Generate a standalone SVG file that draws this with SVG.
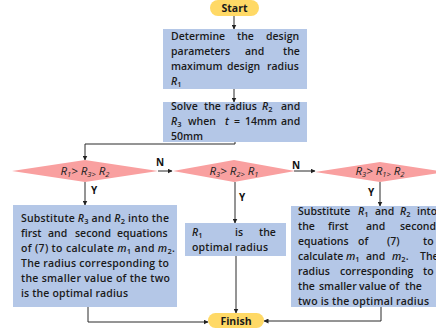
<svg xmlns="http://www.w3.org/2000/svg" width="436" height="333" viewBox="0 0 436 333">
<defs>
<marker id="ah" viewBox="0 0 10 10" refX="9" refY="5" markerWidth="5" markerHeight="5" orient="auto" markerUnits="userSpaceOnUse"><path d="M0,0 L10,5 L0,10 z" fill="#222"/></marker>
</defs>
<style>
.pill{fill:#ffd966}
.box{fill:#b4c7e7}
.dia{fill:#f9a0a0}
.t{font-family:"Open Sans","Liberation Sans",sans-serif;font-size:10.5px;font-weight:600;fill:#1a1a1a}
.pt{font-family:"Open Sans","Liberation Sans",sans-serif;font-size:10.5px;font-weight:700;fill:#1a1a1a;text-anchor:middle}
.dt{font-family:"Open Sans","Liberation Sans",sans-serif;font-size:11.5px;font-style:italic;fill:#222;text-anchor:middle}
.lb{font-family:"Open Sans","Liberation Sans",sans-serif;font-size:10px;font-weight:700;fill:#111}
.i{font-style:italic}
.s{font-size:7.5px}
.c{fill:none;stroke:#2a2a2a;stroke-width:1}
</style>
<g id="connectors">
<path class="c" d="M234,16 V29" marker-end="url(#ah)"/>
<path class="c" d="M234,89 V102" marker-end="url(#ah)"/>
<path class="c" d="M235,142 V144 H85 V160" marker-end="url(#ah)"/>
<path class="c" d="M158,171 H172" marker-end="url(#ah)"/>
<path class="c" d="M294,171 H315" marker-end="url(#ah)"/>
<path class="c" d="M85,182 V205" marker-end="url(#ah)"/>
<path class="c" d="M235,182 V223" marker-end="url(#ah)"/>
<path class="c" d="M380,182 V206" marker-end="url(#ah)"/>
<path class="c" d="M88,307 V322 H208" stroke="#555" stroke-width="1.3" marker-end="url(#ah)"/>
<path class="c" d="M236,256 V313" marker-end="url(#ah)"/>
<path class="c" d="M381,307 V321 H264" marker-end="url(#ah)"/>
<text class="lb" x="156" y="166">N</text>
<text class="lb" x="292" y="169">N</text>
<text class="lb" x="91" y="194">Y</text>
<text class="lb" x="239" y="201">Y</text>
<text class="lb" x="368" y="196">Y</text>
</g>
<g id="start">
<rect class="pill" x="210" y="0" width="49" height="16" rx="8"/>
<text class="pt" x="234.5" y="12">Start</text>
</g>
<g id="box1">
<rect class="box" x="163" y="29" width="144" height="60"/>
<text class="t" y="40"><tspan x="171">Determine</tspan><tspan x="237">the</tspan><tspan x="266">design</tspan></text>
<text class="t" y="55"><tspan x="171">parameters</tspan><tspan x="245">and</tspan><tspan x="283">the</tspan></text>
<text class="t" y="70"><tspan x="171">maximum</tspan><tspan x="227">design</tspan><tspan x="267">radius</tspan></text>
<text class="t" x="171" y="85"><tspan class="i">R</tspan><tspan class="s" dy="2">1</tspan></text>
</g>
<g id="box2">
<rect class="box" x="163" y="102" width="144" height="40"/>
<text class="t" y="110"><tspan x="171">Solve</tspan><tspan x="204">the</tspan><tspan x="225">radius</tspan><tspan x="262" class="i">R</tspan><tspan class="s" dy="2">2</tspan><tspan x="281" dy="-2">and</tspan></text>
<text class="t" y="125"><tspan x="171" class="i">R</tspan><tspan class="s" dy="2">3</tspan><tspan x="188" dy="-2">when</tspan><tspan x="225" class="i">t</tspan><tspan x="234">=</tspan><tspan x="245">14mm</tspan><tspan x="281">and</tspan></text>
<text class="t" x="171" y="140">50mm</text>
</g>
<g id="dec1">
<polygon class="dia" points="12,171 85,160 158,171 85,182"/>
<text class="dt" x="85" y="175"><tspan>R</tspan><tspan class="s" dy="2">1</tspan><tspan dy="-2">&gt; R</tspan><tspan class="s" dy="2">3&gt;</tspan><tspan dy="-2"> R</tspan><tspan class="s" dy="2">2</tspan></text>
</g>
<g id="dec2">
<polygon class="dia" points="173,171 234,160 295,171 234,182"/>
<text class="dt" x="234" y="175"><tspan>R</tspan><tspan class="s" dy="2">3</tspan><tspan dy="-2">&gt; R</tspan><tspan class="s" dy="2">2&gt;</tspan><tspan dy="-2"> R</tspan><tspan class="s" dy="2">1</tspan></text>
</g>
<g id="dec3">
<polygon class="dia" points="315,172 380,162 445,172 380,182"/>
<text class="dt" x="380" y="175"><tspan>R</tspan><tspan class="s" dy="2">3</tspan><tspan dy="-2">&gt; R</tspan><tspan class="s" dy="2">1&gt;</tspan><tspan dy="-2"> R</tspan><tspan class="s" dy="2">2</tspan></text>
</g>
<g id="box-left">
<rect class="box" x="13" y="205" width="164" height="102"/>
<text class="t" x="21" y="222" textLength="148" lengthAdjust="spacing">Substitute <tspan class="i">R</tspan><tspan class="s" dy="2">3</tspan><tspan dy="-2"> and </tspan><tspan class="i">R</tspan><tspan class="s" dy="2">2</tspan><tspan dy="-2"> into the</tspan></text>
<text class="t" y="237"><tspan x="21">first</tspan><tspan x="48">and</tspan><tspan x="75">second</tspan><tspan x="117">equations</tspan></text>
<text class="t" x="21" y="252" textLength="154" lengthAdjust="spacing">of (7) to calculate <tspan class="i">m</tspan><tspan class="s" dy="2">1</tspan><tspan dy="-2"> and </tspan><tspan class="i">m</tspan><tspan class="s" dy="2">2</tspan><tspan dy="-2">.</tspan></text>
<text class="t" x="21" y="267" textLength="148" lengthAdjust="spacing">The radius corresponding to</text>
<text class="t" x="21" y="282" textLength="149" lengthAdjust="spacing">the smaller value of the two</text>
<text class="t" x="21" y="297" textLength="107" lengthAdjust="spacing">is the optimal radius</text>
</g>
<g id="box-mid">
<rect class="box" x="185" y="223" width="101" height="33"/>
<text class="t" y="236"><tspan x="192" class="i">R</tspan><tspan class="s" dy="2">1</tspan><tspan x="235" dy="-2">is</tspan><tspan x="259">the</tspan></text>
<text class="t" x="192" y="251" textLength="76" lengthAdjust="spacing">optimal radius</text>
</g>
<g id="box-right">
<rect class="box" x="291" y="206" width="164" height="101"/>
<text class="t" y="215"><tspan x="298">Substitute</tspan><tspan x="358" class="i">R</tspan><tspan class="s" dy="2">1</tspan><tspan x="375" dy="-2">and</tspan><tspan x="400" class="i">R</tspan><tspan class="s" dy="2">2</tspan><tspan x="417" dy="-2">into</tspan></text>
<text class="t" y="230"><tspan x="298">the</tspan><tspan x="328">first</tspan><tspan x="366">and</tspan><tspan x="400">second</tspan></text>
<text class="t" y="245"><tspan x="298">equations</tspan><tspan x="358">of</tspan><tspan x="387">(7)</tspan><tspan x="423">to</tspan></text>
<text class="t" y="260"><tspan x="298">calculate</tspan><tspan x="346" class="i">m</tspan><tspan class="s" dy="2">1</tspan><tspan x="366" dy="-2">and</tspan><tspan x="392" class="i">m</tspan><tspan class="s" dy="2">2</tspan><tspan dy="-2">.</tspan><tspan x="420">The</tspan></text>
<text class="t" y="275"><tspan x="298">radius</tspan><tspan x="340">corresponding</tspan><tspan x="423">to</tspan></text>
<text class="t" y="290"><tspan x="298">the</tspan><tspan x="319">smaller</tspan><tspan x="359">value</tspan><tspan x="389">of</tspan><tspan x="405">the</tspan></text>
<text class="t" x="298" y="305" textLength="131" lengthAdjust="spacing">two is the optimal radius</text>
</g>
<g id="finish">
<rect class="pill" x="208" y="313" width="56" height="15" rx="7.5"/>
<text class="pt" x="236" y="324.5">Finish</text>
</g>
</svg>
